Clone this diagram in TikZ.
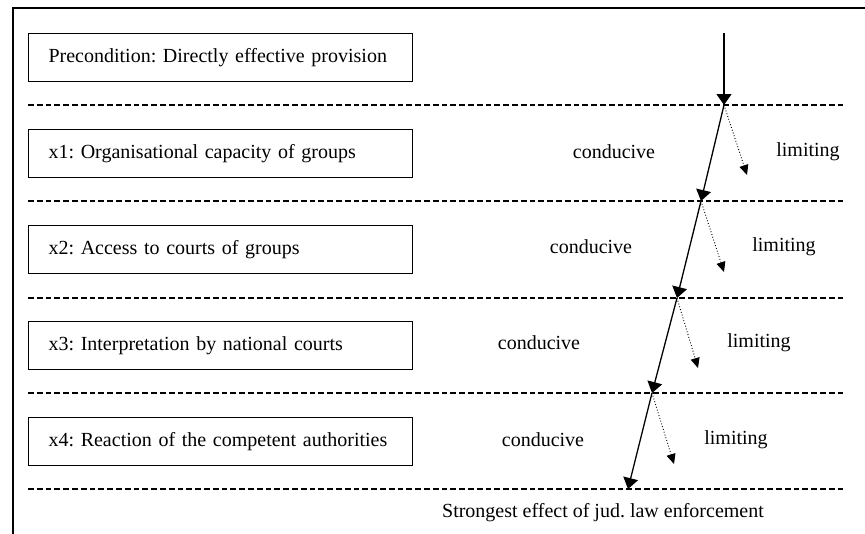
\documentclass[tikz,border=0pt]{standalone}
\usepackage{fontspec}
\setmainfont{Liberation Serif}
\usetikzlibrary{arrows.meta}
\frenchspacing
\begin{document}
\begin{tikzpicture}[x=1pt,y=-1pt,
  factorbox/.style={draw,line width=1.1pt,minimum height=48pt,text width=344pt,align=left,inner xsep=20pt,inner ysep=0pt,anchor=north west,font=\fontsize{20}{22}\selectfont},
  label/.style={font=\fontsize{20}{22}\selectfont,inner sep=0pt},
  sep/.style={line width=1.1pt,dash pattern=on 5.8pt off 3pt},
  mainarrow/.style={line width=1.3pt,-{Triangle[length=11pt,width=15pt]}},
  sidearrow/.style={line width=0.9pt,dotted,-{Triangle[length=10pt,width=9pt]}}]
\useasboundingbox (0,0) rectangle (865,533);
\fill[white] (0,0) rectangle (865,533);
\draw[line width=1.3pt] (13,540) -- (13,8) -- (870,8);
% boxes
\node[factorbox] (b0) at (28,33) {Precondition: Directly effective provision};
\node[factorbox] (b1) at (28,129) {x1: Organisational capacity of groups};
\node[factorbox] (b2) at (28,225) {x2: Access to courts of groups};
\node[factorbox] (b3) at (28,321) {x3: Interpretation by national courts};
\node[factorbox] (b4) at (28,417) {x4: Reaction of the competent authorities};
% separators
\foreach \i/\y in {1/105,2/201,3/298,4/393,5/489}{
  \coordinate (sl\i) at (28,\y);
  \coordinate (sr\i) at (845,\y);
  \draw[sep] (sl\i) -- (sr\i);
}
% labels
\node[label] (c1) at (614,152) {conducive};
\node[label] (c2) at (591,247) {conducive};
\node[label] (c3) at (539,343) {conducive};
\node[label] (c4) at (543,440) {conducive};
\node[label] (l1) at (808,152) {limiting};
\node[label] (l2) at (784,247) {limiting};
\node[label] (l3) at (759,343) {limiting};
\node[label] (l4) at (736,440) {limiting};
\node[label] (res) at (603,513) {Strongest effect of jud. law enforcement};
% path points
\coordinate (p0) at (724,33);
\coordinate (p1) at (724,105);
\coordinate (p2) at (701,201);
\coordinate (p3) at (677,298);
\coordinate (p4) at (652,393);
\coordinate (p5) at (628,489);
\coordinate (d1) at (747,175);
\coordinate (d2) at (724,272);
\coordinate (d3) at (698,368);
\coordinate (d4) at (674,464);
\draw[mainarrow] (p0) -- (p1);
\draw[mainarrow] (p1) -- (p2);
\draw[mainarrow] (p2) -- (p3);
\draw[mainarrow] (p3) -- (p4);
\draw[mainarrow] (p4) -- (p5);
\draw[sidearrow] (p1) -- (d1);
\draw[sidearrow] (p2) -- (d2);
\draw[sidearrow] (p3) -- (d3);
\draw[sidearrow] (p4) -- (d4);
\end{tikzpicture}
\end{document}
